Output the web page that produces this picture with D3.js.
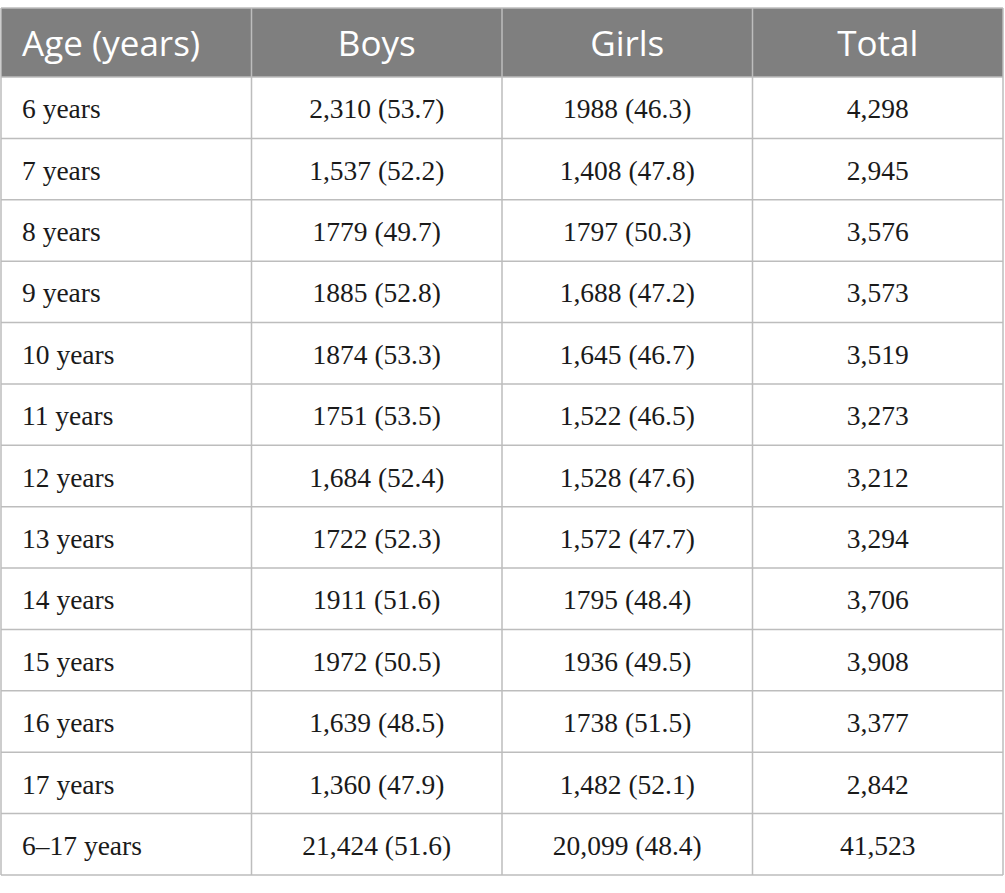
<!DOCTYPE html>
<html>
<head>
<meta charset="utf-8">
<script src="https://cdn.jsdelivr.net/npm/d3@7"></script>
<style>
  body { margin: 0; background: #fff; }
</style>
</head>
<body>
<script>
const width = 1005;
const height = 893;

const headers = ["Age (years)", "Boys", "Girls", "Total"];
const ages = ["6 years", "7 years", "8 years", "9 years", "10 years", "11 years",
  "12 years", "13 years", "14 years", "15 years", "16 years", "17 years", "6\u201317 years"];
const boys = ["2,310 (53.7)", "1,537 (52.2)", "1779 (49.7)", "1885 (52.8)", "1874 (53.3)",
  "1751 (53.5)", "1,684 (52.4)", "1722 (52.3)", "1911 (51.6)", "1972 (50.5)",
  "1,639 (48.5)", "1,360 (47.9)", "21,424 (51.6)"];
const girls = ["1988 (46.3)", "1,408 (47.8)", "1797 (50.3)", "1,688 (47.2)", "1,645 (46.7)",
  "1,522 (46.5)", "1,528 (47.6)", "1,572 (47.7)", "1795 (48.4)", "1936 (49.5)",
  "1738 (51.5)", "1,482 (52.1)", "20,099 (48.4)"];
const totals = ["4,298", "2,945", "3,576", "3,573", "3,519", "3,273", "3,212", "3,294",
  "3,706", "3,908", "3,377", "2,842", "41,523"];

const rows = ages.map((a, i) => [a, boys[i], girls[i], totals[i]]);

const tLeft = 1, tRight = 1003, tTop = 8, headH = 69, tBottom = 875;
const gridColor = "#bdbdbd";

const svg = d3.select("body").append("svg")
  .attr("width", width)
  .attr("height", height);

const x = d3.scaleBand().domain(d3.range(headers.length)).range([tLeft, tRight]);
const y = d3.scaleBand().domain(d3.range(rows.length)).range([tTop + headH, tBottom]);

// header
svg.append("rect")
  .attr("x", tLeft).attr("y", tTop)
  .attr("width", tRight - tLeft).attr("height", headH)
  .attr("fill", "#7f7f7f");

svg.selectAll("text.head")
  .data(headers)
  .join("text")
  .attr("class", "head")
  .attr("x", (d, i) => i === 0 ? x(i) + 21 : x(i) + x.bandwidth() / 2)
  .attr("y", tTop + headH / 2 + 1)
  .attr("dy", "0.35em")
  .attr("text-anchor", (d, i) => i === 0 ? "start" : "middle")
  .attr("fill", "#fff")
  .style("font-family", "'Open Sans', sans-serif")
  .style("font-size", "35px")
  .text(d => d);

// body cells
const rowG = svg.selectAll("g.row")
  .data(rows)
  .join("g")
  .attr("class", "row")
  .attr("transform", (d, i) => `translate(0,${y(i)})`);

rowG.selectAll("text")
  .data(d => d)
  .join("text")
  .attr("x", (d, i) => i === 0 ? x(i) + 21 : x(i) + x.bandwidth() / 2)
  .attr("y", y.bandwidth() / 2 + 1)
  .attr("dy", "0.35em")
  .attr("text-anchor", (d, i) => i === 0 ? "start" : "middle")
  .attr("fill", "#1a1a1a")
  .style("font-family", "'Liberation Serif', 'DejaVu Serif', serif")
  .style("font-size", "27.5px")
  .text(d => d);

// grid lines
svg.selectAll("line.h")
  .data(d3.range(rows.length + 1))
  .join("line")
  .attr("class", "h")
  .attr("x1", tLeft).attr("x2", tRight)
  .attr("y1", i => i === rows.length ? tBottom : y(i))
  .attr("y2", i => i === rows.length ? tBottom : y(i))
  .attr("stroke", gridColor)
  .attr("stroke-width", 1.5);

svg.append("line")
  .attr("x1", tLeft).attr("x2", tRight)
  .attr("y1", tTop).attr("y2", tTop)
  .attr("stroke", gridColor)
  .attr("stroke-width", 1.5);

svg.selectAll("line.v")
  .data(d3.range(headers.length + 1))
  .join("line")
  .attr("class", "v")
  .attr("x1", i => i === headers.length ? tRight : x(i))
  .attr("x2", i => i === headers.length ? tRight : x(i))
  .attr("y1", tTop).attr("y2", tBottom)
  .attr("stroke", gridColor)
  .attr("stroke-width", 1.5);
</script>
</body>
</html>
